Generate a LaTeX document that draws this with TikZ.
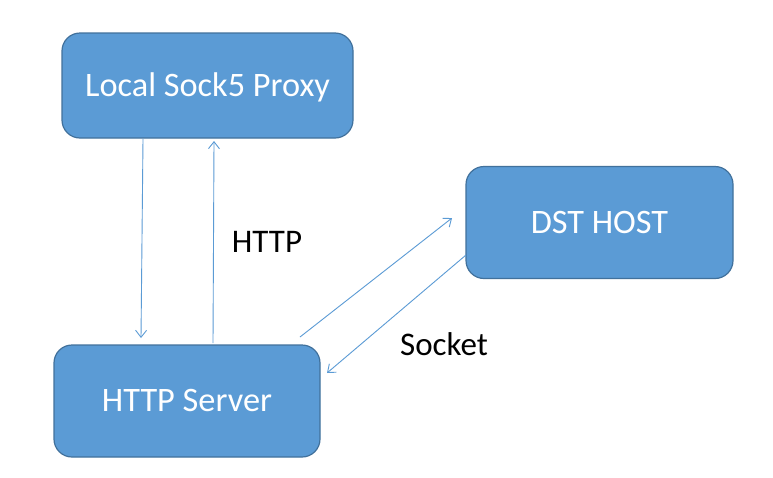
\documentclass[tikz,border=0pt]{standalone}
\usepackage{fontspec}
\setmainfont{Carlito}
\usetikzlibrary{arrows.meta,calc}
\definecolor{boxfill}{HTML}{5B9BD5}
\definecolor{boxline}{HTML}{41719C}
\definecolor{arrowc}{HTML}{5B9BD5}
\begin{document}
\begin{tikzpicture}[x=1pt,y=-1pt,
  box/.style={draw=boxline,fill=boxfill,line width=1.2pt,rounded corners=18pt,
    inner sep=0pt,text=white,font=\fontsize{34.3}{38}\selectfont,
    text height=21.5pt,text depth=0pt},
  lbl/.style={inner sep=0pt,text=black,font=\fontsize{33}{37}\selectfont,
    text height=21pt,text depth=0pt},
  conn/.style={draw=arrowc,line width=0.9pt,-{Straight Barb[length=7pt,width=11pt,line width=0.9pt]}}]
\useasboundingbox (0,0) rectangle (773,477);
\fill[white] (0,0) rectangle (773,477);
\node[box,minimum width=291pt,minimum height=105pt] (proxy) at (207.5,85.5) {Local Sock5 Proxy};
\node[box,minimum width=267pt,minimum height=112pt] (dst) at (599.5,222.5) {DST HOST};
\node[box,minimum width=266pt,minimum height=112pt] (server) at (187,401) {HTTP Server};
\node[lbl] (http) at (267,241.5) {HTTP};
\node[lbl] (socket) at (444,345) {Socket};
\coordinate (p1) at (143,139);
\coordinate (s1) at (141,338);
\coordinate (s2) at (213,343);
\coordinate (p2) at (214,141);
\coordinate (s3) at (300,337);
\coordinate (d1) at (452,218);
\coordinate (d2) at (466,255);
\coordinate (s4) at (327,373);
\draw[conn] (p1) -- (s1);
\draw[conn] (s2) -- (p2);
\draw[conn] (s3) -- (d1);
\draw[conn] (d2) -- (s4);
\end{tikzpicture}
\end{document}
